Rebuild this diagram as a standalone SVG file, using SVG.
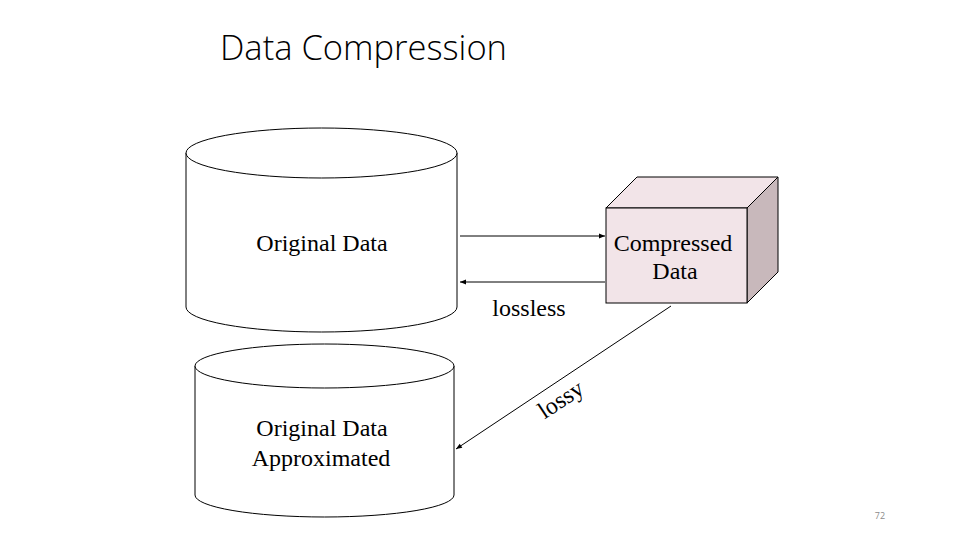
<svg xmlns="http://www.w3.org/2000/svg" width="960" height="540" viewBox="0 0 960 540">
<defs>
<style>
.shape{fill:#fff;stroke:#000;stroke-width:1}
.lbl{font-family:"Liberation Serif",serif;font-size:24px;fill:#000;text-anchor:middle}
.conn{stroke:#000;stroke-width:1;fill:none}
</style>
<marker id="ah" viewBox="0 0 10 10" refX="10" refY="5" markerWidth="8" markerHeight="6" orient="auto" markerUnits="userSpaceOnUse">
<path d="M0,1 L10,5 L0,9 z" fill="#000"/>
</marker>
</defs>
<rect width="960" height="540" fill="#fff"/>
<text x="220" y="60" font-family="'Open Sans',sans-serif" font-weight="300" font-size="34.5" fill="#000">Data Compression</text>
<g id="original">
<path class="shape" d="M186,153 L186,307 A135.5,25 0 0 0 457,307 L457,153"/>
<ellipse class="shape" cx="321.5" cy="153" rx="135.5" ry="25"/>
<text class="lbl" x="322" y="251">Original Data</text>
</g>
<g id="approx">
<path class="shape" d="M195,366 L195,495 A129.5,22 0 0 0 454,495 L454,366"/>
<ellipse class="shape" cx="324.5" cy="366" rx="129.5" ry="22"/>
<text class="lbl" x="322" y="436">Original Data</text>
<text class="lbl" x="321" y="466">Approximated</text>
</g>
<g id="compressed">
<polygon points="606,208 637,177 778,177 747,208" fill="#F2E4E8" stroke="#000"/>
<polygon points="747,208 778,177 778,272 747,303" fill="#C8B8BB" stroke="#000"/>
<rect x="606" y="208" width="141" height="95" fill="#F2E4E8" stroke="#000"/>
<text class="lbl" x="673" y="251">Compressed</text>
<text class="lbl" x="675" y="279">Data</text>
</g>
<g id="connectors">
<line class="conn" x1="460" y1="236" x2="605" y2="236" marker-end="url(#ah)"/>
<line class="conn" x1="605" y1="282" x2="460" y2="282" marker-end="url(#ah)"/>
<line class="conn" x1="671" y1="306" x2="456" y2="449" marker-end="url(#ah)"/>
<text class="lbl" x="529" y="316">lossless</text>
<text class="lbl" x="0" y="0" transform="translate(565,406) rotate(-33.5)">lossy</text>
</g>
<text x="880" y="519" font-family="'Open Sans',sans-serif" font-size="9" fill="#8c8c8c" text-anchor="middle">72</text>
</svg>
